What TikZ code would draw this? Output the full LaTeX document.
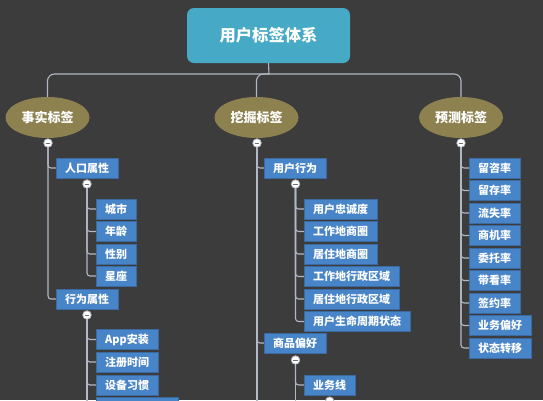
\documentclass[tikz,border=0pt]{standalone}
\usepackage{fontspec}
\setmainfont{Noto Sans CJK SC}
\usetikzlibrary{shapes.geometric}
\definecolor{bg}{RGB}{60,60,60}
\definecolor{rootc}{RGB}{70,170,198}
\definecolor{catc}{RGB}{142,129,80}
\definecolor{boxc}{RGB}{72,132,200}
\definecolor{linec}{RGB}{178,184,198}
\definecolor{minusc}{RGB}{110,110,115}
\tikzset{
  rootbox/.style={rectangle, rounded corners=7pt, fill=rootc, minimum width=163pt, minimum height=55pt, text=white, font=\fontsize{16.3}{19}\selectfont\bfseries},
  catnode/.style={ellipse, fill=catc, minimum width=84pt, minimum height=41pt, inner sep=0pt, text=white, font=\fontsize{13}{15}\selectfont\bfseries},
  leaf/.style={rectangle, fill=boxc, anchor=west, minimum height=20pt, inner xsep=9pt, inner ysep=0pt, text=white, font=\fontsize{11}{13}\selectfont\bfseries, draw=boxc!80!black, line width=0.4pt},
  conn/.style={draw=linec, line width=1.1pt},
  tog/.style={circle, minimum size=8.5pt, inner sep=0pt, fill=white, draw=linec, line width=0.8pt,
    path picture={\draw[minusc, line width=1pt] ([xshift=-2.3pt]path picture bounding box.center) -- ([xshift=2.3pt]path picture bounding box.center);}}
}
\begin{document}
\begin{tikzpicture}[x=1pt,y=-1pt]
\fill[bg] (0,0) rectangle (543,400);
\useasboundingbox (0,0) rectangle (543,400);
\clip (0,0) rectangle (543,400);

% root and categories
\node[rootbox] (root) at (268.5,35.5) {用户标签体系};
\node[catnode] (fact) at (47.5,117.5) {事实标签};
\node[catnode] (mine) at (256.5,117.5) {挖掘标签};
\node[catnode] (pred) at (461,117.5) {预测标签};
\coordinate (j) at (269,74);
\draw[conn] (root.south) -- (j);
\draw[conn, rounded corners=7pt] (j) -| (fact.north);
\draw[conn, rounded corners=7pt] (j) -| (mine.north);
\draw[conn, rounded corners=7pt] (j) -| (pred.north);

% ---------- left branch ----------
\coordinate (cfp) at (48,143);
\node[leaf] (p1) at (56,168) {人口属性};
\node[leaf] (p2) at (56,299) {行为属性};
\draw[conn, rounded corners=3pt] (cfp) |- (p1.west);
\draw[conn, rounded corners=3pt] (cfp) |- (p2.west);

\coordinate (cp1p) at (87,184);
\node[leaf] (a1) at (96,209) {城市};
\node[leaf] (a2) at (96,231.5) {年龄};
\node[leaf] (a3) at (96,254) {性别};
\node[leaf] (a4) at (96,276) {星座};
\foreach \n in {a1,a2,a3,a4} \draw[conn, rounded corners=3pt] (cp1p) |- (\n.west);

\coordinate (cp2p) at (87,315);
\coordinate (cp2end) at (87,410);
\node[leaf] (b1) at (96,339.5) {App安装};
\node[leaf] (b2) at (96,362) {注册时间};
\node[leaf] (b3) at (96,385) {设备习惯};
\node[leaf, minimum width=82pt] (b4) at (96,407.5) {};
\draw[conn] (cp2p) -- (cp2end);
\foreach \n in {b1,b2,b3,b4} \draw[conn, rounded corners=3pt] (cp2p) |- (\n.west);

% ---------- middle branch ----------
\coordinate (cmp) at (257,143);
\coordinate (cmend) at (257,410);
\node[leaf] (u1) at (264,168) {用户行为};
\node[leaf] (u2) at (264,343) {商品偏好};
\draw[conn] (cmp) -- (cmend);
\draw[conn, rounded corners=3pt] (cmp) |- (u1.west);
\draw[conn, rounded corners=3pt] (cmp) |- (u2.west);

\coordinate (cu1p) at (295.5,184);
\node[leaf] (v1) at (304,209) {用户忠诚度};
\node[leaf] (v2) at (304,231.5) {工作地商圈};
\node[leaf] (v3) at (304,254) {居住地商圈};
\node[leaf] (v4) at (304,276.5) {工作地行政区域};
\node[leaf] (v5) at (304,299) {居住地行政区域};
\node[leaf] (v6) at (304,321.5) {用户生命周期状态};
\foreach \n in {v1,v2,v3,v4,v5,v6} \draw[conn, rounded corners=3pt] (cu1p) |- (\n.west);

\coordinate (cu2p) at (295.5,360);
\coordinate (cu2end) at (295.5,410);
\node[leaf] (w1) at (304,385) {业务线};
\draw[conn] (cu2p) -- (cu2end);
\draw[conn, rounded corners=3pt] (cu2p) |- (w1.west);

% ---------- right branch ----------
\coordinate (crp) at (461,143);
\node[leaf] (r1) at (469,168) {留咨率};
\node[leaf] (r2) at (469,190.5) {留存率};
\node[leaf] (r3) at (469,213) {流失率};
\node[leaf] (r4) at (469,235.5) {商机率};
\node[leaf] (r5) at (469,258) {委托率};
\node[leaf] (r6) at (469,280.5) {带看率};
\node[leaf] (r7) at (469,303) {签约率};
\node[leaf] (r8) at (469,325.5) {业务偏好};
\node[leaf] (r9) at (469,348) {状态转移};
\foreach \n in {r1,r2,r3,r4,r5,r6,r7,r8,r9} \draw[conn, rounded corners=3pt] (crp) |- (\n.west);

% toggles
\node[tog] (cf) at (cfp) {};
\node[tog] (cp1) at (cp1p) {};
\node[tog] (cp2) at (cp2p) {};
\node[tog] (cm) at (cmp) {};
\node[tog] (cu1) at (cu1p) {};
\node[tog] (cu2) at (cu2p) {};
\node[tog] (cw1) at ([yshift=-6pt]w1.south) {};
\node[tog] (cr) at (crp) {};
\end{tikzpicture}
\end{document}
